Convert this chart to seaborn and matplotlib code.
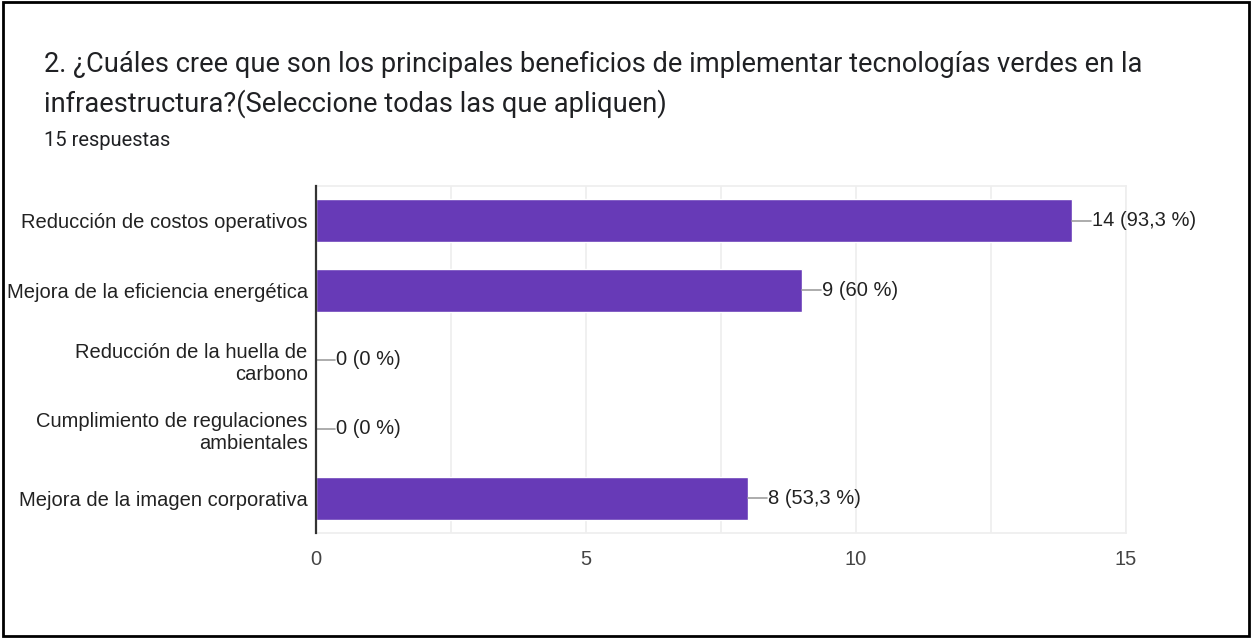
import matplotlib
matplotlib.use("Agg")
import matplotlib.pyplot as plt
import seaborn as sns
import pandas as pd
from matplotlib.patches import Rectangle

# Dati
categorie = [
    "Reducción de costos operativos",
    "Mejora de la eficiencia energética",
    "Reducción de la huella de\ncarbono",
    "Cumplimiento de regulaciones\nambientales",
    "Mejora de la imagen corporativa",
]
conteggi = [14, 9, 0, 0, 8]
etichette = ["14 (93,3 %)", "9 (60 %)", "0 (0 %)", "0 (0 %)", "8 (53,3 %)"]
tick_x = [0, 5, 10, 15]

titolo_1 = "2. ¿Cuáles cree que son los principales beneficios de implementar tecnologías verdes en la"
titolo_2 = "infraestructura?(Seleccione todas las que apliquen)"
sottotitolo = "15 respuestas"

df = pd.DataFrame({"Categoria": categorie, "Conteggio": conteggi})

sns.set_theme(style="white")
plt.rcParams['font.family'] = ['Liberation Sans', 'DejaVu Sans']

W, H = 1252, 638
fig = plt.figure(figsize=(W / 100, H / 100), dpi=100)
fig.patch.set_facecolor("white")

# bordo nero dell'immagine
fig.add_artist(Rectangle((0.002, 0.003), 0.996, 0.994, transform=fig.transFigure,
                         fill=False, edgecolor="black", linewidth=2))

ax = fig.add_axes([316 / W, 105 / H, 810 / W, 347 / H])
sns.barplot(data=df, x="Conteggio", y="Categoria", color="#673ab7", saturation=1,
            width=0.62, orient="h", ax=ax, zorder=3)

ax.set_xlim(0, 15)
ax.set_ylim(4.5, -0.5)
ax.set_xticks(tick_x)
ax.set_xticks([2.5, 7.5, 12.5], minor=True)
ax.grid(axis="x", which="both", color="#eeeeee", linewidth=1.2, zorder=0)
ax.set_xlabel("")
ax.set_ylabel("")
ax.tick_params(axis="both", length=0, labelsize=14.5, colors="#222222")
ax.tick_params(axis="x", pad=12, labelcolor="#444444")
ax.tick_params(axis="y", pad=6)
for s in ["top", "right", "bottom"]:
    ax.spines[s].set_color("#eeeeee")
    ax.spines[s].set_linewidth(1.2)
ax.spines["left"].set_color("#333333")
ax.spines["left"].set_linewidth(1.6)
ax.spines["left"].set_zorder(5)
for lbl in ax.get_yticklabels():
    lbl.set_horizontalalignment("right")
    lbl.set_multialignment("right")

# etichette con linea guida
for i, (v, t) in enumerate(zip(conteggi, etichette)):
    ax.plot([v, v + 0.36], [i, i], color="#9e9e9e", linewidth=1.2, zorder=4, clip_on=False)
    ax.text(v + 0.37, i, t, va="center", ha="left", fontsize=14.5, color="#222222")

font_titolo = ["Roboto", "DejaVu Sans"]
fig.text(44 / W, 1 - 72 / H, titolo_1, fontsize=19.6, family=font_titolo,
         color="#202124", ha="left", va="baseline")
fig.text(44 / W, 1 - 112 / H, titolo_2, fontsize=19.6, family=font_titolo,
         color="#202124", ha="left", va="baseline")
fig.text(44 / W, 1 - 146 / H, sottotitolo, fontsize=14.5, family=font_titolo,
         color="#202124", ha="left", va="baseline")

fig.savefig("out.png", dpi=100)
